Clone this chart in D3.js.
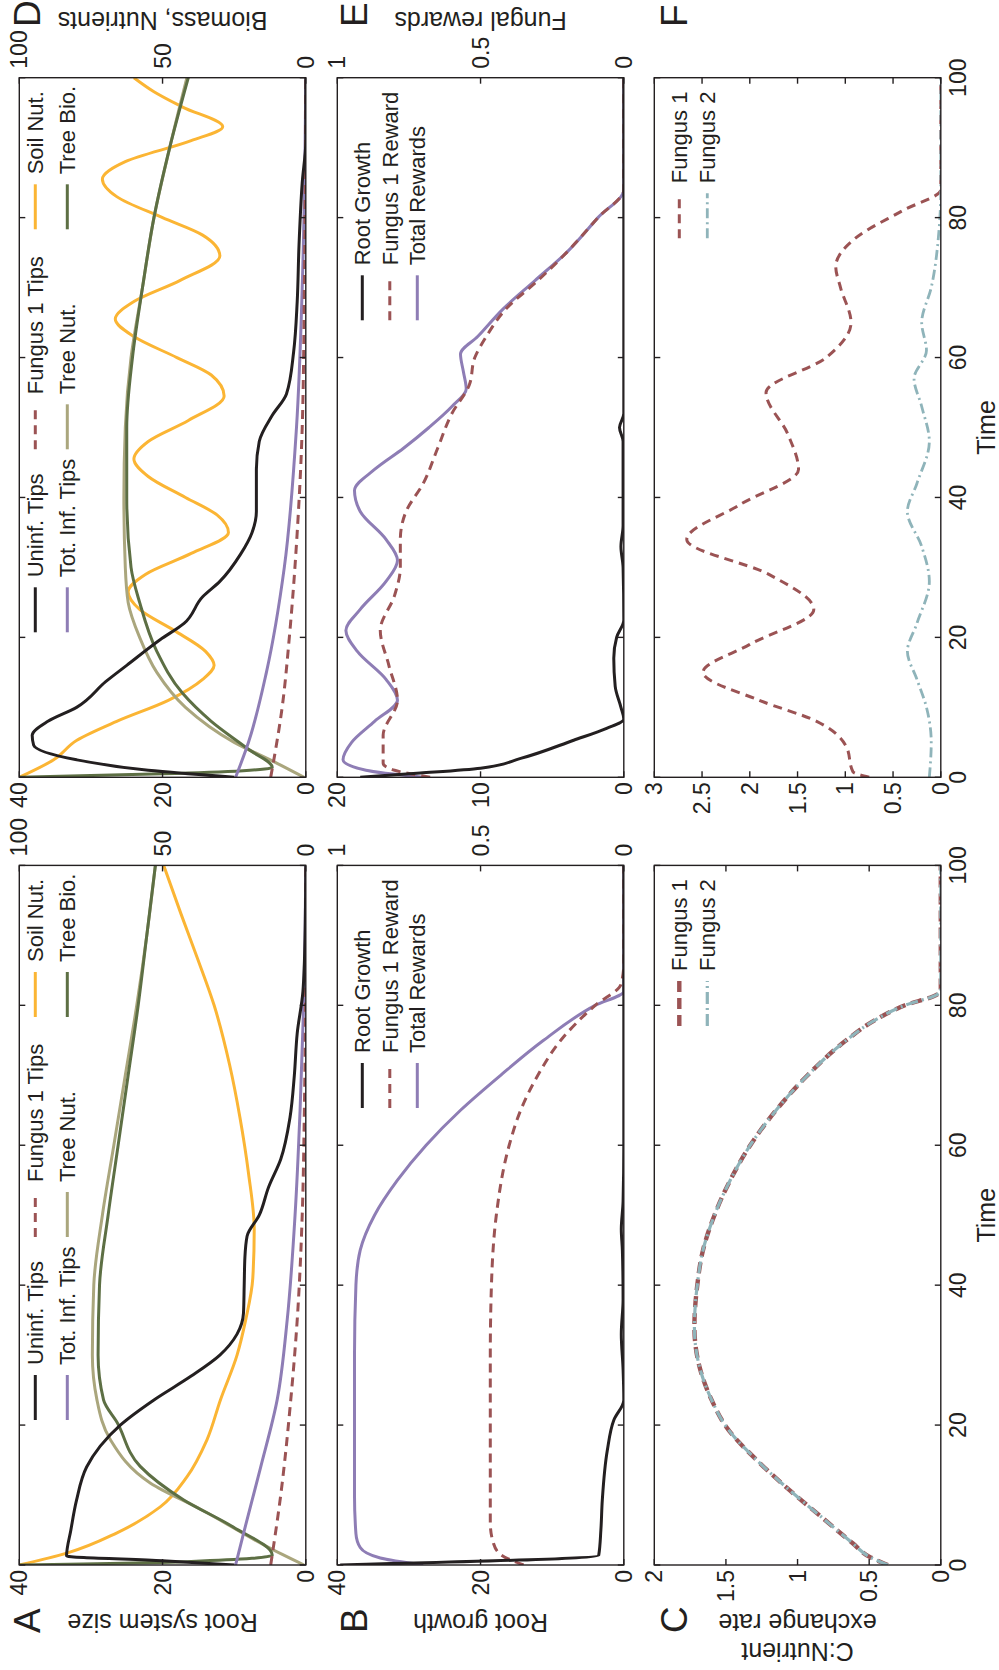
<!DOCTYPE html>
<html>
<head>
<meta charset="utf-8">
<script src="https://cdn.jsdelivr.net/npm/d3@7"></script>
<style>
  body { margin: 0; background: #fff; }
  text { font-family: "Liberation Sans", Arial, Helvetica, sans-serif; fill: #231f20; }
</style>
</head>
<body>
<svg id="fig" width="999" height="1670"></svg>
<script>
// ---------- data (time, value) ----------
const timeTicks = [0, 20, 40, 60, 80, 100];
const tipsTicks = [0, 20, 40];
const bioTicks = [0, 50, 100];
const rewardTicks = [0, 0.5, 1];
const growthTicksE = [0, 10, 20];
const rateTicksC = [0, 0.5, 1, 1.5, 2];
const rateTicksF = [0, 0.5, 1, 1.5, 2, 2.5, 3];

// panel A
const aUninf = [[0,10],[0.6,20],[1.3,33.4],[5,32.8],[9.3,32],[14,30.6],[17,28.7],[20,25.9],[23.6,21.2],[27,16],[30,12],[33,9.6],[36,8.7],[40,8.6],[44,8.5],[47,8.2],[50,6.5],[54,5.2],[58,3.5],[64,2.2],[70,1.6],[76,1.2],[82,0.4],[90,0.1],[100,0]];
const aTotInf = [[0,9.8],[4.5,8.7],[14,6.3],[23.6,4.0],[35,2.6],[50,1.5],[65,0.8],[80,0.3],[90,0.1],[100,0]];
const aFung1 = [[0,4.9],[10,3.5],[23.6,2.1],[35,1.2],[50,0.5],[65,0.2],[80,0.05],[100,0]];
const aSoil = [[0,100],[1.7,83.4],[4.6,65.9],[8.3,50.8],[12.6,41.5],[17.9,34.5],[23.6,29.8],[30,24],[35,21],[41,18.5],[48,18],[56,20],[64,23],[71.5,26.6],[80,32],[86.7,37.8],[93,43.5],[100,49.6]];
const aTreeNut = [[0,0.6],[2.6,13.4],[7.9,36.4],[11.7,54.2],[17.9,68.2],[23.6,72.9],[30,74.5],[40,74],[50,71],[60,67],[70,63],[80,59],[90,55.5],[100,52.5]];
const aTreeBio = [[0,100],[0.5,40],[1.4,11.7],[5.4,25.2],[9.3,42.6],[14.1,57.8],[20.4,65.9],[23.6,70.6],[30,72.5],[40,72],[50,69],[60,65.5],[70,62],[80,58.5],[90,55.5],[100,52.5]];

// panel B
const bRoot = [[0,39.6],[1.4,3.5],[5,3.2],[9.3,3.0],[16.4,2.3],[20.7,1.4],[23.6,0],[28,0.1],[33,0.35],[38,0.1],[45,0.2],[48,0.35],[52,0.1],[60,0],[100,0]];
const bFung1 = [[0,0.35],[1.5,0.43],[3.1,0.455],[6,0.466],[30,0.466],[40,0.462],[50,0.445],[60,0.4],[65,0.36],[70,0.3],[75,0.22],[80,0.1],[83,0.01],[86,0],[100,0]];
const bTotal = [[0,0.7],[1,0.85],[2.5,0.92],[4.5,0.935],[10,0.94],[30,0.94],[40,0.935],[45,0.92],[50,0.87],[55,0.79],[60,0.69],[65,0.57],[70,0.43],[75,0.28],[80,0.1],[82,0],[100,0]];

// panel C
const cFung1 = [[0,0.37],[1.2,0.5],[3.1,0.615],[6.7,0.824],[10.7,1.056],[14.6,1.265],[19.7,1.496],[23.6,1.6],[28,1.68],[34,1.72],[40,1.7],[45,1.66],[50,1.58],[55,1.47],[60,1.33],[65,1.15],[70,0.93],[75,0.66],[78,0.45],[80,0.25],[81.5,0.03],[82,0],[100,0]];
const cFung2 = [[0,0.37],[1.2,0.5],[3.1,0.615],[6.7,0.824],[10.7,1.056],[14.6,1.265],[19.7,1.496],[23.6,1.6],[28,1.68],[34,1.72],[40,1.7],[45,1.66],[50,1.58],[55,1.47],[60,1.33],[65,1.15],[70,0.93],[75,0.66],[78,0.45],[80,0.25],[81.5,0.03],[82,0],[100,0]];

// panel D
const dUninf = [[0,10],[1,22],[2.5,32],[4.6,38],[6,38.2],[8,36],[10,32],[13.7,27.9],[16,25],[19.7,20.3],[22,17],[25.8,14.4],[28,12],[31.9,9.1],[35,7.5],[38,6.9],[44,6.9],[48,6.5],[51.7,4.7],[54.8,2.7],[60.8,1.7],[68,1.2],[76,0.95],[85,0.5],[91,0],[100,0]];
const dTotInf = [[0,9.8],[5,8],[15,5.5],[30,3],[50,1.3],[70,0.5],[90,0.1],[100,0]];
const dFung1 = [[0,4.9],[10,3.3],[20,2.3],[35,1.2],[50,0.5],[70,0.2],[100,0]];
const dSoil = [[0,100],[2.5,88],[5.3,79.9],[8,66],[11,48],[14,36],[16,32],[18,35],[21,46],[24,58],[26.5,62],[29,56],[32,40],[35,27],[37.5,31],[40,42],[43,55],[45.5,60],[48,55],[51,41],[54.5,28.5],[57.5,33],[60,45],[63,60],[65.5,66.5],[68,60],[71,44],[74.5,30],[77.5,36],[80,50],[83,66],[85.5,71],[88,63],[91,40],[93,29],[95.8,43],[98,53],[100,60]];
const dTreeNut = [[0,0.6],[2,10],[5,25],[10,42],[15,52],[20,58],[25,62],[30,63],[40,63.5],[50,63],[60,61],[70,57],[80,53],[90,47.5],[100,41.5]];
const dTreeBio = [[0,100],[0.5,50],[1.4,11.7],[4,20],[8,33],[12,43],[18,52],[25,58],[30,61],[40,62.5],[50,62.5],[60,60.5],[70,57],[80,53],[90,47.5],[100,41]];

// panel E
const eRoot = [[0,18.4],[0.6,14.2],[1.3,10],[2.7,7.2],[5.3,3.5],[7,1.2],[8.3,0],[10,0.2],[13,0.6],[17,0.7],[20,0.5],[22.5,0],[30,0.05],[33,0.2],[36,0.05],[48,0.05],[50,0.3],[52,0],[100,0]];
const eFung1 = [[0,0.676],[1,0.8],[2,0.84],[6,0.84],[11,0.79],[16,0.82],[21,0.85],[26,0.8],[30,0.78],[34,0.78],[38,0.76],[42,0.7],[47,0.65],[52,0.6],[56,0.54],[60,0.52],[63,0.48],[67,0.41],[71,0.3],[75,0.2],[80,0.09],[84,0],[100,0]];
const eTotal = [[0,0.7],[1,0.9],[2.5,0.98],[5,0.95],[8,0.87],[11,0.79],[14,0.83],[18,0.93],[21,0.97],[24,0.92],[28,0.83],[31,0.79],[34,0.83],[38,0.92],[41,0.94],[44,0.87],[47,0.77],[50,0.68],[53,0.6],[55.5,0.55],[58,0.56],[60.5,0.57],[63,0.51],[67,0.42],[71,0.31],[75,0.2],[80,0.09],[84,0],[100,0]];

// panel F
const fFung1 = [[0,0.75],[0.8,0.92],[4.4,0.99],[8,1.3],[11,1.9],[15,2.49],[19,2],[24,1.33],[29,1.8],[34,2.66],[39,2.1],[44,1.49],[49,1.6],[55,1.83],[60,1.2],[65,0.94],[70,1.05],[73,1.1],[77,0.9],[81,0.4],[84,0],[100,0]];
const fFung2 = [[0,0.12],[5,0.1],[10,0.15],[14,0.25],[18,0.35],[22,0.25],[28,0.12],[33,0.2],[38,0.35],[42,0.25],[48,0.12],[53,0.2],[57,0.28],[61,0.15],[65,0.2],[70,0.1],[78,0.02],[84,0],[100,0]];

// ---------- styles ----------
const C_BLACK = '#231f20', C_PURPLE = '#8e7db5', C_BROWN = '#9b5354',
      C_YELLOW = '#fbb534', C_KHAKI = '#aaa67d', C_GREEN = '#5d6f44', C_TEAL = '#8fb4ba';
const FS_TICK = 23, FS_LABEL = 25, FS_LEG = 22, FS_LETTER = 37;
const TICK = 6, LW = 3, FRAME = 1.4;

// figure is drawn landscape (1670 x 999) and rotated into the portrait page
const svg = d3.select('#fig');
const fig = svg.append('g').attr('transform', 'translate(0,1670) rotate(-90)');

const COLS = [105, 892.7], PW = 699.6;
const ROWS = [19.3, 337.3, 654.3], PH = 286.5;

let clipId = 0;
function panel(col, row, o) {
  const x0 = COLS[col], x1 = x0 + PW, y0 = ROWS[row], y1 = y0 + PH;
  const xs = d3.scaleLinear().domain([0, 100]).range([x0, x1]);
  const yl = d3.scaleLinear().domain(o.left).range([y1, y0]);
  const yr = o.right ? d3.scaleLinear().domain(o.right).range([y1, y0]) : null;
  const g = fig.append('g');
  const id = 'clip' + (clipId++);
  g.append('clipPath').attr('id', id).append('rect')
    .attr('x', x0).attr('y', y0).attr('width', PW).attr('height', PH);
  const plot = g.append('g').attr('clip-path', `url(#${id})`);

  o.series.forEach(s => {
    const ys = s.axis === 'right' ? yr : yl;
    plot.append('path')
      .datum(s.data)
      .attr('d', d3.line().x(d => xs(d[0])).y(d => ys(d[1])).curve(d3.curveMonotoneX))
      .attr('fill', 'none')
      .attr('stroke', s.color)
      .attr('stroke-width', s.width || LW)
      .attr('stroke-dasharray', s.dash || null)
      .attr('stroke-linejoin', 'round');
  });

  // frame
  g.append('rect').attr('x', x0).attr('y', y0).attr('width', PW).attr('height', PH)
    .attr('fill', 'none').attr('stroke', C_BLACK).attr('stroke-width', FRAME);

  // time ticks, both edges
  timeTicks.forEach(t => {
    g.append('line').attr('x1', xs(t)).attr('x2', xs(t)).attr('y1', y1).attr('y2', y1 - TICK)
      .attr('stroke', C_BLACK).attr('stroke-width', FRAME);
    g.append('line').attr('x1', xs(t)).attr('x2', xs(t)).attr('y1', y0).attr('y2', y0 + TICK)
      .attr('stroke', C_BLACK).attr('stroke-width', FRAME);
  });
  if (o.timeLabels) {
    timeTicks.forEach(t => {
      g.append('text').attr('x', xs(t)).attr('y', y1 + 25).attr('text-anchor', 'middle')
        .attr('font-size', FS_TICK).text(t);
    });
    g.append('text').attr('x', (x0 + x1) / 2).attr('y', 995).attr('text-anchor', 'middle')
      .attr('font-size', FS_LABEL).text('Time');
  }

  // left axis
  o.leftTicks.forEach(v => {
    g.append('line').attr('x1', x0).attr('x2', x0 + TICK).attr('y1', yl(v)).attr('y2', yl(v))
      .attr('stroke', C_BLACK).attr('stroke-width', FRAME);
    g.append('text').attr('x', x0 - 5).attr('y', yl(v)).attr('dy', '0.35em')
      .attr('text-anchor', 'end').attr('font-size', FS_TICK).text(v);
  });
  // right axis (own ticks or mirrored)
  const rs = yr || yl, rt = o.rightTicks || o.leftTicks;
  rt.forEach(v => {
    g.append('line').attr('x1', x1).attr('x2', x1 - TICK).attr('y1', rs(v)).attr('y2', rs(v))
      .attr('stroke', C_BLACK).attr('stroke-width', FRAME);
    if (yr) g.append('text').attr('x', x1 + 9).attr('y', rs(v)).attr('dy', '0.35em')
      .attr('text-anchor', 'start').attr('font-size', FS_TICK).text(v);
  });

  // panel letter and axis label
  const lx = col === 0 ? 37 : 1643;
  g.append('text').attr('x', lx).attr('y', y0 + (row === 0 ? 21 : row === 1 ? 30 : 33))
    .attr('font-size', FS_LETTER).text(o.letter);
  if (o.label) {
    const bx = col === 0 ? 56 : 1658, cy = (y0 + y1) / 2;
    const lines = o.label;
    lines.forEach((ln, i) => {
      g.append('text')
        .attr('transform', `translate(${bx - (lines.length - 1 - i) * 29},${cy}) rotate(-90)`)
        .attr('text-anchor', 'middle').attr('font-size', FS_LABEL).text(ln);
    });
  }

  // legend
  if (o.legend) {
    o.legend.items.forEach(it => {
      const lx0 = x0 + it.cx, ly = y0 + it.cy;
      g.append('line').attr('x1', lx0).attr('x2', lx0 + 45).attr('y1', ly).attr('y2', ly)
        .attr('stroke', it.s.color).attr('stroke-width', it.s.width || LW)
        .attr('stroke-dasharray', it.s.dash || null);
      g.append('text').attr('x', lx0 + 55).attr('y', ly).attr('dy', '0.35em')
        .attr('font-size', FS_LEG).text(it.name);
    });
  }
}

const sBlack = { color: C_BLACK }, sPurple = { color: C_PURPLE },
      sBrownDash = { color: C_BROWN, dash: '9,6' }, sYellow = { color: C_YELLOW },
      sKhaki = { color: C_KHAKI }, sGreen = { color: C_GREEN },
      sBrownThick = { color: C_BROWN, dash: '11,6', width: 4.4 },
      sTealDashDot = { color: C_TEAL, dash: '10,4,2,4', width: 2.8 },
      sTealThick = { color: C_TEAL, dash: '12,4,2,4', width: 3.2 };

const legTop = [
  { cx: 145, cy: 16, name: 'Uninf. Tips', s: sBlack },
  { cx: 145, cy: 48, name: 'Tot. Inf. Tips', s: sPurple },
  { cx: 328, cy: 16, name: 'Fungus 1 Tips', s: sBrownDash },
  { cx: 328, cy: 48, name: 'Tree Nut.', s: sKhaki },
  { cx: 548, cy: 16, name: 'Soil Nut.', s: sYellow },
  { cx: 548, cy: 48, name: 'Tree Bio.', s: sGreen }
];
const legMid = [
  { cx: 457, cy: 25, name: 'Root Growth', s: sBlack },
  { cx: 457, cy: 52.5, name: 'Fungus 1 Reward', s: sBrownDash },
  { cx: 457, cy: 80, name: 'Total Rewards', s: sPurple }
];
const legBotC = [
  { cx: 539, cy: 25, name: 'Fungus 1', s: sBrownThick },
  { cx: 539, cy: 53, name: 'Fungus 2', s: sTealThick }
];
const legBotF = [
  { cx: 539, cy: 25, name: 'Fungus 1', s: sBrownDash },
  { cx: 539, cy: 53, name: 'Fungus 2', s: sTealDashDot }
];

panel(0, 0, {
  letter: 'A', label: ['Root system size'], left: [0, 40], leftTicks: tipsTicks,
  right: [0, 100], rightTicks: bioTicks,
  series: [
    { ...sYellow, data: aSoil, axis: 'right' },
    { ...sKhaki, data: aTreeNut, axis: 'right' },
    { ...sGreen, data: aTreeBio, axis: 'right' },
    { ...sPurple, data: aTotInf },
    { ...sBrownDash, data: aFung1 },
    { ...sBlack, data: aUninf }
  ],
  legend: { items: legTop }
});
panel(0, 1, {
  letter: 'B', label: ['Root growth'], left: [0, 40], leftTicks: tipsTicks,
  right: [0, 1], rightTicks: rewardTicks,
  series: [
    { ...sPurple, data: bTotal, axis: 'right' },
    { ...sBrownDash, data: bFung1, axis: 'right' },
    { ...sBlack, data: bRoot }
  ],
  legend: { items: legMid }
});
panel(0, 2, {
  letter: 'C', label: ['C:Nutrient', 'exchange rate'], left: [0, 2], leftTicks: rateTicksC,
  timeLabels: true,
  series: [
    { ...sBrownThick, data: cFung1 },
    { ...sTealThick, data: cFung2 }
  ],
  legend: { items: legBotC }
});
panel(1, 0, {
  letter: 'D', label: ['Biomass, Nutrients'], left: [0, 40], leftTicks: tipsTicks,
  right: [0, 100], rightTicks: bioTicks,
  series: [
    { ...sYellow, data: dSoil, axis: 'right' },
    { ...sKhaki, data: dTreeNut, axis: 'right' },
    { ...sGreen, data: dTreeBio, axis: 'right' },
    { ...sPurple, data: dTotInf },
    { ...sBrownDash, data: dFung1 },
    { ...sBlack, data: dUninf }
  ],
  legend: { items: legTop }
});
panel(1, 1, {
  letter: 'E', label: ['Fungal rewards'], left: [0, 20], leftTicks: growthTicksE,
  right: [0, 1], rightTicks: rewardTicks,
  series: [
    { ...sPurple, data: eTotal, axis: 'right' },
    { ...sBrownDash, data: eFung1, axis: 'right' },
    { ...sBlack, data: eRoot }
  ],
  legend: { items: legMid }
});
panel(1, 2, {
  letter: 'F', left: [0, 3], leftTicks: rateTicksF, timeLabels: true,
  series: [
    { ...sBrownDash, data: fFung1 },
    { ...sTealDashDot, data: fFung2 }
  ],
  legend: { items: legBotF }
});
</script>
</body>
</html>
